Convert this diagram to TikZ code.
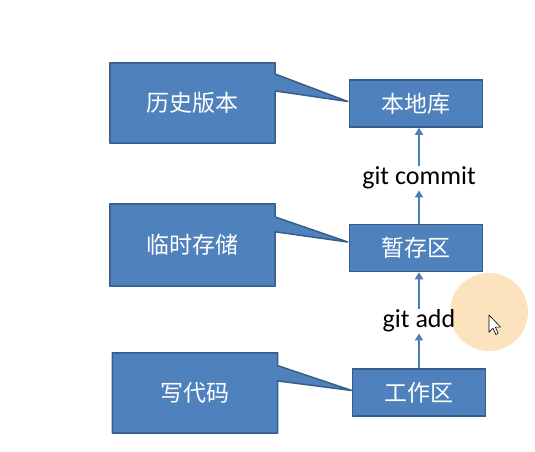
\documentclass[tikz,border=0pt]{standalone}
\usepackage{fontspec}
\setmainfont{Carlito}
\newfontfamily\cjk{Noto Sans CJK SC}
\usetikzlibrary{arrows.meta,calc,backgrounds}
\definecolor{boxblue}{HTML}{4F81BD}
\definecolor{boxedge}{HTML}{385D8A}
\definecolor{arrowblue}{HTML}{4A7EBB}
\definecolor{spot}{HTML}{FAE3BD}
\begin{document}
\begin{tikzpicture}[x=1pt,y=-1pt]
	\tikzstyle{area}=[draw=boxedge,fill=boxblue,line width=1.5pt,text=white,minimum width=133pt,minimum height=47pt,inner sep=0pt,font=\cjk\fontsize{23}{26}\selectfont]
	\tikzstyle{note}=[text=white,inner sep=0pt,minimum width=165pt,minimum height=80pt,font=\cjk\fontsize{23}{26}\selectfont]
	\tikzstyle{bubble}=[draw=boxedge,fill=boxblue,line width=1.5pt,line join=round]
	\tikzstyle{cmd}=[inner sep=1pt,font=\fontsize{26}{29}\selectfont]
	\tikzstyle{flow}=[arrowblue,line width=2.2pt,-{Triangle[width=8pt,length=7pt]}]
	\useasboundingbox (0,0) rectangle (535,452);
	\node[area] (local) at (416,103.5) {本地库};
	\node[area] (stage) at (416,248) {暂存区};
	\node[area] (work) at (419,392.5) {工作区};
	\node[note] (hist) at (192.5,103) {历史版本};
	\node[note,minimum height=82pt] (temp) at (192.5,245) {临时存储};
	\node[note] (code) at (195,393) {写代码};
	\begin{scope}[on background layer]
		\draw[bubble] (hist.north west) -- (hist.north east) -- ($(hist.north east)!0.14!(hist.south east)$) -- ($(local.west)+(-1,-2)$) -- ($(hist.north east)!0.35!(hist.south east)$) -- (hist.south east) -- (hist.south west) -- cycle;
		\draw[bubble] (temp.north west) -- (temp.north east) -- ($(temp.north east)!0.16!(temp.south east)$) -- ($(stage.west)+(-1,-6)$) -- ($(temp.north east)!0.34!(temp.south east)$) -- (temp.south east) -- (temp.south west) -- cycle;
		\draw[bubble] (code.north west) -- (code.north east) -- ($(code.north east)!0.16!(code.south east)$) -- ($(work.west)+(0,-2)$) -- ($(code.north east)!0.35!(code.south east)$) -- (code.south east) -- (code.south west) -- cycle;
	\end{scope}
	\fill[spot] (489,312) circle (39);
	\draw[black,fill=white,line width=0.6pt,line join=round,shift={(489,315)},scale=1.15] (0,0) -- (0,15) -- (3.5,11.5) -- (6,17) -- (8,16) -- (5.5,10.5) -- (10,10.5) -- cycle;
	\node[cmd] (commit) at (419,178) {git commit};
	\node[cmd] (add) at (419,321) {git add};
	\draw[flow] (commit.south |- stage.north) -- (commit.south);
	\draw[flow] (commit.north) -- (commit.north |- local.south);
	\draw[flow] (work.north) -- (add.south);
	\draw[flow] (add.north) -- (add.north |- stage.south);
\end{tikzpicture}
\end{document}
